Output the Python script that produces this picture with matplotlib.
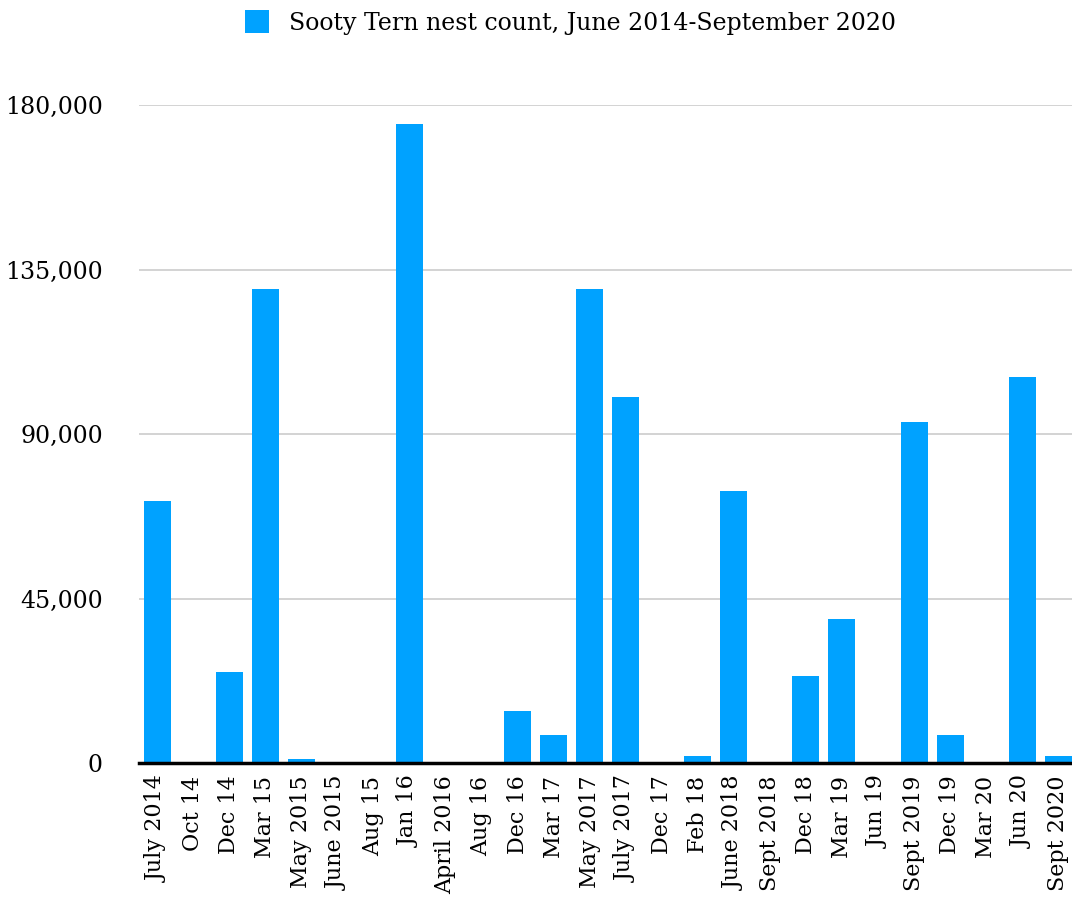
import numpy as np
import matplotlib.pyplot as plt

# даты учётов и число гнёзд
months = ['July 2014', 'Oct 14', 'Dec 14', 'Mar 15', 'May 2015', 'June 2015',
          'Aug 15', 'Jan 16', 'April 2016', 'Aug 16', 'Dec 16', 'Mar 17',
          'May 2017', 'July 2017', 'Dec 17', 'Feb 18', 'June 2018', 'Sept 2018',
          'Dec 18', 'Mar 19', 'Jun 19', 'Sept 2019', 'Dec 19', 'Mar 20',
          'Jun 20', 'Sept 2020']
nests = [71600, 0, 25000, 129700, 1100, 0,
         0, 174700, 0, 0, 14200, 7600,
         129700, 100000, 0, 1900, 74400, 0,
         23700, 39500, 0, 93400, 7600, 0,
         105700, 1900]
y_ticks = [0, 45000, 90000, 135000, 180000]
series_name = 'Sooty Tern nest count, June 2014-September 2020'

plt.rcParams['font.family'] = ['DejaVu Serif']

fig = plt.figure(figsize=(10.72, 8.99), dpi=100)
ax = fig.add_axes([139 / 1072, 1 - 763 / 899, 1 - 139 / 1072 + 0.004, (763 - 105) / 899])

x = np.arange(len(months))
ax.bar(x, nests, width=0.75, color='#00a2ff', label=series_name, zorder=2)

ax.set_xlim(-0.5, len(months) - 0.5)
ax.set_ylim(0, 180000)
ax.set_yticks(y_ticks)
ax.set_yticklabels(['{:,}'.format(v) for v in y_ticks], fontsize=17)
ax.set_xticks(x)
ax.set_xticklabels(months, rotation=90, fontsize=16)
ax.tick_params(axis='x', length=0, pad=9)
ax.tick_params(axis='y', length=0, pad=26)

ax.grid(axis='y', color='#cccccc', linewidth=1.2, zorder=0)
for s in ['top', 'right', 'left']:
    ax.spines[s].set_visible(False)
ax.spines['bottom'].set_linewidth(2.5)
ax.spines['bottom'].set_zorder(3)

fig.legend(loc='upper center', bbox_to_anchor=(0.532, 1.012), frameon=False,
           fontsize=17, handlelength=1.0, handleheight=1.1, handletextpad=0.85)

fig.savefig('out.png', dpi=100)
